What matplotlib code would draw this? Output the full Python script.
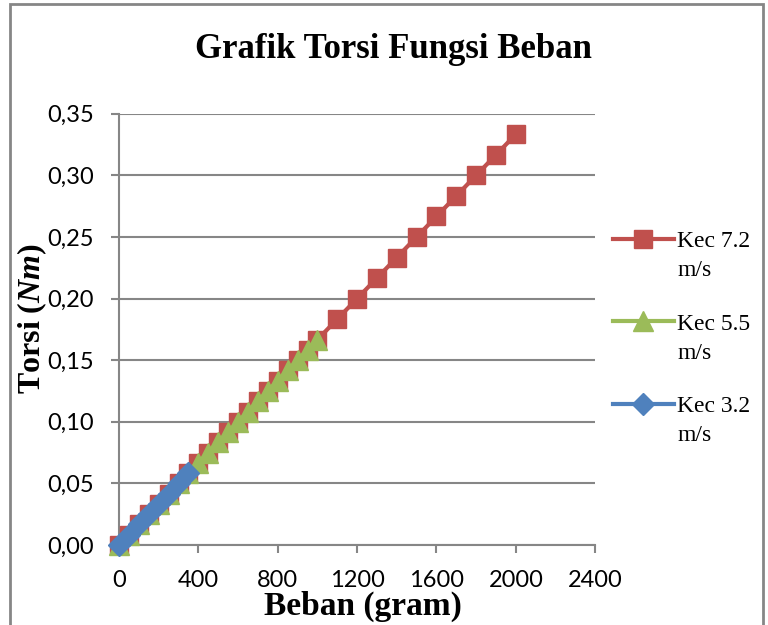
import matplotlib
matplotlib.use("Agg")
import matplotlib.pyplot as plt
from matplotlib.patches import Rectangle

# --- data ---
beban_72 = [0, 50, 100, 150, 200, 250, 300, 350, 400, 450, 500, 550, 600, 650, 700,
            750, 800, 850, 900, 950, 1000, 1100, 1200, 1300, 1400, 1500, 1600, 1700,
            1800, 1900, 2000]
torsi_72 = [b / 6000 for b in beban_72]

beban_55 = [0, 50, 100, 150, 200, 250, 300, 350, 400, 450, 500, 550, 600, 650, 700,
            750, 800, 850, 900, 950, 1000]
torsi_55 = [b / 6000 for b in beban_55]

beban_32 = [0, 50, 100, 150, 200, 250, 300, 350]
torsi_32 = [b / 6000 for b in beban_32]

x_ticks = [0, 400, 800, 1200, 1600, 2000, 2400]
y_ticks = [0.00, 0.05, 0.10, 0.15, 0.20, 0.25, 0.30, 0.35]
y_tick_labels = ["0,00", "0,05", "0,10", "0,15", "0,20", "0,25", "0,30", "0,35"]
series_names = ["Kec 7.2", "Kec 5.5", "Kec 3.2"]

plt.rcParams["mathtext.fontset"] = "custom"
plt.rcParams["mathtext.it"] = "Liberation Serif:italic:bold"
plt.rcParams["mathtext.rm"] = "Liberation Serif:bold"

fig = plt.figure(figsize=(7.68, 6.25), dpi=100)
ax = fig.add_axes([0.155, 0.128, 0.62, 0.69])

ax.plot(beban_72, torsi_72, color="#C0504D", lw=3, marker="s", ms=13,
        label=series_names[0], zorder=3, clip_on=False)
ax.plot(beban_55, torsi_55, color="#9BBB59", lw=3, marker="^", ms=14,
        label=series_names[1], zorder=4, clip_on=False)
ax.plot(beban_32, torsi_32, color="#4F81BD", lw=3, marker="D", ms=11,
        label=series_names[2], zorder=5, clip_on=False)

ax.set_xlim(0, 2400)
ax.set_ylim(0, 0.35)
ax.set_xticks(x_ticks)
ax.set_yticks(y_ticks)
ax.set_yticklabels(y_tick_labels)
ax.tick_params(labelsize=17, length=6, width=1.5, color="#868686", direction="out", pad=12)
for lab in ax.get_xticklabels() + ax.get_yticklabels():
    lab.set_fontfamily("Lato")

ax.grid(axis="y", color="#868686", lw=1.5)
ax.set_axisbelow(True)
for s in ["top", "right"]:
    ax.spines[s].set_visible(False)
for s in ["left", "bottom"]:
    ax.spines[s].set_color("#868686")
    ax.spines[s].set_linewidth(1.5)
ax.patch.set_alpha(0)

fig.text(0.473, 0.03, "Beban (gram)", ha="center", va="center",
         fontfamily="Liberation Serif", fontweight="bold", fontsize=24)
fig.text(0.042, 0.49, "Torsi ($\\mathit{Nm}$)", ha="center", va="center", rotation=90,
         fontfamily="Liberation Serif", fontweight="bold", fontsize=23)
fig.text(0.512, 0.92, "Grafik Torsi Fungsi Beban", ha="center", va="center",
         fontfamily="Liberation Serif", fontweight="bold", fontsize=25)

leg = fig.legend(loc="upper left", bbox_to_anchor=(0.771, 0.665), frameon=False,
                 prop={"family": "Liberation Serif", "size": 17},
                 handlelength=2.55, handletextpad=0.15, labelspacing=2.58)

# second line of each legend label, placed under the first line
fig.canvas.draw()
inv = fig.transFigure.inverted()
for t in leg.get_texts():
    bb = t.get_window_extent()
    x0, y0 = inv.transform((bb.x0, bb.y0))
    fig.text(x0, y0 - 0.013, "m/s", ha="left", va="top",
             fontfamily="Liberation Serif", fontsize=17)

# outer chart border
fig.patches.append(Rectangle((0.013, -0.02), 0.98, 1.013, transform=fig.transFigure,
                             fill=False, edgecolor="#868686", lw=2))

fig.savefig("out.png", dpi=100)
